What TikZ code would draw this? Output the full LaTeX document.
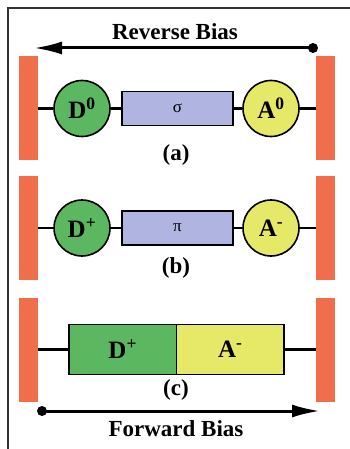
\documentclass[tikz,border=0pt]{standalone}
\usepackage{fontspec}
\setmainfont{Liberation Serif}
\usetikzlibrary{arrows.meta,calc}

\definecolor{barred}{RGB}{240,110,76}
\definecolor{dgreen}{RGB}{92,184,96}
\definecolor{ayellow}{RGB}{230,232,104}
\definecolor{bridge}{RGB}{176,180,224}

\tikzset{
  electrode/.style={draw=none, fill=barred, minimum width=19pt, minimum height=104pt, inner sep=0pt},
  donor/.style={circle, draw, line width=1.6pt, fill=dgreen, minimum size=56pt, inner sep=0pt, font=\fontsize{25}{28}\bfseries},
  acceptor/.style={circle, draw, line width=1.6pt, fill=ayellow, minimum size=56pt, inner sep=0pt, font=\fontsize{25}{28}\bfseries},
  linker/.style={draw, line width=1.6pt, fill=bridge, minimum width=111pt, minimum height=34pt, inner sep=0pt, font=\fontsize{17}{20}\selectfont},
  halfbox/.style={draw, line width=1.6pt, minimum width=107.5pt, minimum height=50pt, inner sep=0pt, font=\fontsize{25}{28}\bfseries},
  tag/.style={font=\fontsize{23}{26}\bfseries},
  wire/.style={line width=2.2pt},
}

\begin{document}
\begin{tikzpicture}[x=1pt, y=-1pt, >={Latex[length=28pt,width=13pt]}]

\useasboundingbox (0,0) rectangle (350,449);
\draw [gray!40!black, line width=1.3pt] (8,449) -- (8,8) -- (350,8);

% reverse bias
\node [tag] at (175,32) (rev) {Reverse Bias};
\coordinate (revS) at (313,48);
\coordinate (revE) at (34,48);
\draw [->, line width=3pt] (revS) -- (revE);
\fill (revS) circle (5pt);

% (a) sigma bridge
\node [electrode] at (28.5,108.5) (La) {};
\node [electrode] at (325.5,108.5) (Ra) {};
\node [donor] at (82,108.5) (Da) {D\textsuperscript{0}};
\node [linker] at (177.5,108.5) (Sa) {σ};
\node [acceptor] at (271,108.5) (Aa) {A\textsuperscript{0}};
\draw [wire] (La) -- (Da);
\draw [wire] (Da) -- (Sa);
\draw [wire] (Sa) -- (Aa);
\draw [wire] (Aa) -- (Ra);
\node [tag] at (176,155) (la) {(a)};

% (b) pi bridge
\node [electrode] at (28.5,228) (Lb) {};
\node [electrode] at (325.5,228) (Rb) {};
\node [donor] at (82,228) (Db) {D\textsuperscript{+}};
\node [linker] at (177.5,228) (Sb) {π};
\node [acceptor] at (271,228) (Ab) {A\textsuperscript{-}};
\draw [wire] (Lb) -- (Db);
\draw [wire] (Db) -- (Sb);
\draw [wire] (Sb) -- (Ab);
\draw [wire] (Ab) -- (Rb);
\node [tag] at (176,268) (lb) {(b)};

% (c) zwitterion
\node [electrode] at (28.5,349.5) (Lc) {};
\node [electrode] at (325.5,349.5) (Rc) {};
\node [halfbox, fill=dgreen] at (122.75,349.5) (Dc) {D\textsuperscript{+}};
\node [halfbox, fill=ayellow] at (230.25,349.5) (Ac) {A\textsuperscript{-}};
\draw [wire] (Lc) -- (Dc);
\draw [wire] (Ac) -- (Rc);
\node [tag] at (176,390) (lc) {(c)};

% forward bias
\coordinate (fwdS) at (42,411);
\coordinate (fwdE) at (320,411);
\draw [->, line width=3pt] (fwdS) -- (fwdE);
\fill (fwdS) circle (5pt);
\node [tag] at (176,429) (fwd) {Forward Bias};

\end{tikzpicture}
\end{document}
